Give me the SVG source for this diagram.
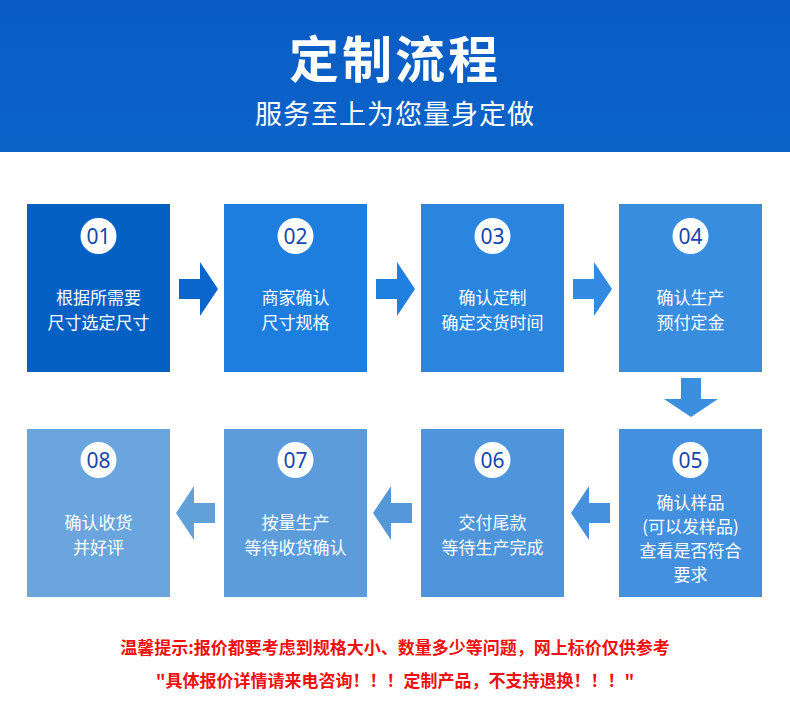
<svg xmlns="http://www.w3.org/2000/svg" width="790" height="710" viewBox="0 0 790 710">
<defs>
<linearGradient id="hd" x1="0" y1="0" x2="0" y2="1"><stop offset="0" stop-color="#0a5cc4"/><stop offset="1" stop-color="#0b63c8"/></linearGradient>
<path id="ar" d="M0,-10 H21 V-27 L39,0 L21,27 V10 H0 Z"/>
</defs>
<style>
text{font-family:"Noto Sans CJK SC","Noto Sans",sans-serif;text-anchor:middle}
.t{fill:#fff;font-size:17px}
.n{fill:#1547b0;font-size:21px;font-family:"Noto Sans","Noto Sans CJK SC",sans-serif}
.w{fill:#red}
</style>
<rect x="0" y="0" width="790" height="152" fill="url(#hd)"/>
<text x="395" y="78" fill="#fff" font-size="50" font-weight="bold" letter-spacing="3">定制流程</text>
<text x="395" y="124" fill="#fff" font-size="27" letter-spacing="1">服务至上为您量身定做</text>
<g id="n1"><rect x="27" y="204" width="143" height="168" fill="#0560c4"/><circle cx="98.5" cy="236" r="18" fill="#fff"/><text class="n" x="98.5" y="244">01</text><text class="t" x="98.5" y="304">根据所需要</text><text class="t" x="98.5" y="329">尺寸选定尺寸</text></g>
<g id="n2"><rect x="224" y="204" width="143" height="168" fill="#1e7ee0"/><circle cx="295.5" cy="236" r="18" fill="#fff"/><text class="n" x="295.5" y="244">02</text><text class="t" x="295.5" y="304">商家确认</text><text class="t" x="295.5" y="329">尺寸规格</text></g>
<g id="n3"><rect x="421" y="204" width="143" height="168" fill="#2a85df"/><circle cx="492.5" cy="236" r="18" fill="#fff"/><text class="n" x="492.5" y="244">03</text><text class="t" x="492.5" y="304">确认定制</text><text class="t" x="492.5" y="329">确定交货时间</text></g>
<g id="n4"><rect x="619" y="204" width="143" height="168" fill="#388ddf"/><circle cx="690.5" cy="236" r="18" fill="#fff"/><text class="n" x="690.5" y="244">04</text><text class="t" x="690.5" y="304">确认生产</text><text class="t" x="690.5" y="329">预付定金</text></g>
<g id="n5"><rect x="619" y="429" width="143" height="168" fill="#4290de"/><circle cx="690.5" cy="460" r="18" fill="#fff"/><text class="n" x="690.5" y="468">05</text><text class="t" x="690.5" y="509">确认样品</text><text class="t" x="690.5" y="533">(可以发样品)</text><text class="t" x="690.5" y="557">查看是否符合</text><text class="t" x="690.5" y="581">要求</text></g>
<g id="n6"><rect x="421" y="429" width="143" height="168" fill="#4e95db"/><circle cx="492.5" cy="460" r="18" fill="#fff"/><text class="n" x="492.5" y="468">06</text><text class="t" x="492.5" y="529">交付尾款</text><text class="t" x="492.5" y="554">等待生产完成</text></g>
<g id="n7"><rect x="224" y="429" width="143" height="168" fill="#5c9cdb"/><circle cx="295.5" cy="460" r="18" fill="#fff"/><text class="n" x="295.5" y="468">07</text><text class="t" x="295.5" y="529">按量生产</text><text class="t" x="295.5" y="554">等待收货确认</text></g>
<g id="n8"><rect x="27" y="429" width="143" height="168" fill="#6aa5dd"/><circle cx="98.5" cy="460" r="18" fill="#fff"/><text class="n" x="98.5" y="468">08</text><text class="t" x="98.5" y="529">确认收货</text><text class="t" x="98.5" y="554">并好评</text></g>
<g id="connectors">
<use href="#ar" transform="translate(179,289)" fill="#0a66cc"/>
<use href="#ar" transform="translate(376,289)" fill="#2080e0"/>
<use href="#ar" transform="translate(573,289)" fill="#338ae0"/>
<use href="#ar" transform="translate(691,378) rotate(90)" fill="#3c8ede"/>
<use href="#ar" transform="translate(610,513) rotate(180)" fill="#4690dd"/>
<use href="#ar" transform="translate(412,513) rotate(180)" fill="#5498da"/>
<use href="#ar" transform="translate(215,513) rotate(180)" fill="#62a0da"/>
</g>
<text x="395" y="654" fill="#f01010" font-size="17" font-weight="bold">温馨提示:报价都要考虑到规格大小、数量多少等问题，网上标价仅供参考</text>
<text x="395" y="687" fill="#f01010" font-size="17" font-weight="bold">"具体报价详情请来电咨询！！！定制产品，不支持退换！！！"</text>
</svg>
